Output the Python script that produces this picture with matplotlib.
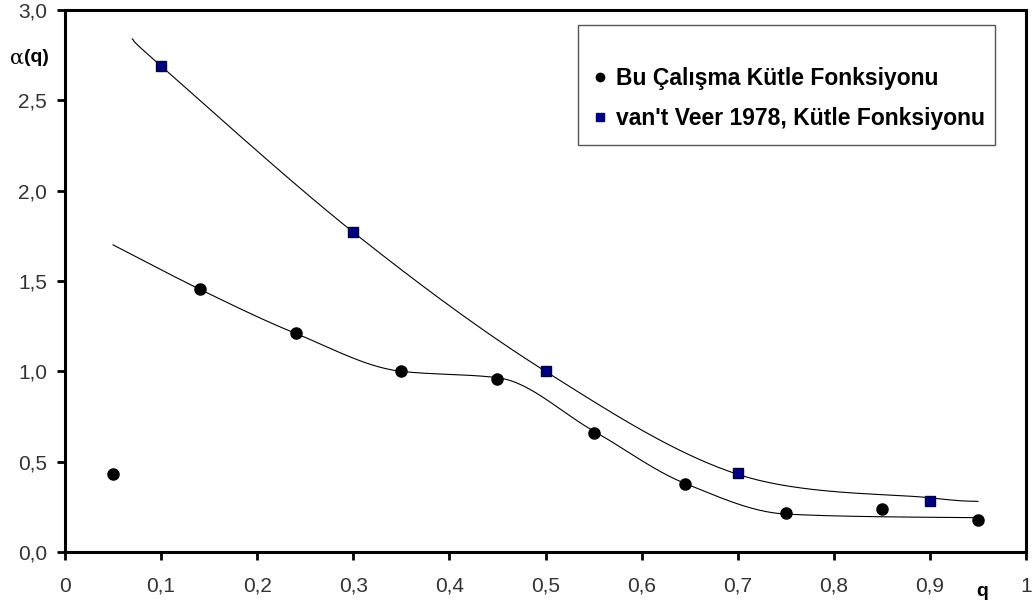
import numpy as np
import matplotlib
matplotlib.use("Agg")
import matplotlib.pyplot as plt
from matplotlib.lines import Line2D
from matplotlib.patches import Rectangle

plt.rcParams['font.family'] = ['Liberation Sans', 'DejaVu Sans']

# ---------------- data ----------------
q_bu = [0.05, 0.14, 0.24, 0.35, 0.45, 0.55, 0.645, 0.75, 0.85, 0.95]
a_bu = [0.43, 1.455, 1.21, 1.00, 0.96, 0.66, 0.375, 0.215, 0.238, 0.177]

q_vv = [0.10, 0.30, 0.50, 0.70, 0.90]
a_vv = [2.69, 1.77, 1.00, 0.435, 0.28]

# smoothed trend lines (knots)
q_bu_fit = [0.05, 0.14, 0.24, 0.35, 0.45, 0.55, 0.645, 0.75, 0.85, 0.95]
a_bu_fit = [1.70, 1.455, 1.21, 1.00, 0.965, 0.67, 0.38, 0.21, 0.195, 0.19]

q_vv_fit = [0.07, 0.10, 0.30, 0.50, 0.70, 0.90, 0.95]
a_vv_fit = [2.84, 2.69, 1.77, 1.00, 0.43, 0.30, 0.28]

xticks = [0, 0.1, 0.2, 0.3, 0.4, 0.5, 0.6, 0.7, 0.8, 0.9, 1.0]
xtick_labels = ["0", "0,1", "0,2", "0,3", "0,4", "0,5", "0,6", "0,7", "0,8", "0,9", "1"]
yticks = [0, 0.5, 1.0, 1.5, 2.0, 2.5, 3.0]
ytick_labels = ["0,0", "0,5", "1,0", "1,5", "2,0", "2,5", "3,0"]

labels = ["Bu Çalışma Kütle Fonksiyonu", "van't Veer 1978, Kütle Fonksiyonu"]


def smooth_cr(xs, ys, n=40):
    # Catmull-Rom through the knots (spreadsheet "smoothed line")
    p = np.column_stack([xs, ys]).astype(float)
    p = np.vstack([p[0], p, p[-1]])
    out = []
    t = np.linspace(0, 1, n)[:, None]
    for i in range(1, len(p) - 2):
        p0, p1, p2, p3 = p[i - 1], p[i], p[i + 1], p[i + 2]
        seg = 0.5 * ((2 * p1) + (-p0 + p2) * t
                     + (2 * p0 - 5 * p1 + 4 * p2 - p3) * t ** 2
                     + (-p0 + 3 * p1 - 3 * p2 + p3) * t ** 3)
        out.append(seg)
    out = np.vstack(out)
    return out[:, 0], out[:, 1]


def smooth_mono(xs, ys, n=400):
    # monotone cubic (Fritsch-Carlson), keeps the flat part flat
    x = np.asarray(xs, float)
    y = np.asarray(ys, float)
    h = np.diff(x)
    d = np.diff(y) / h
    m = np.zeros_like(x)
    for k in range(1, len(x) - 1):
        if d[k - 1] * d[k] > 0:
            w1 = 2 * h[k] + h[k - 1]
            w2 = h[k] + 2 * h[k - 1]
            m[k] = (w1 + w2) / (w1 / d[k - 1] + w2 / d[k])
    m[0] = d[0]
    m[-1] = d[-1]
    xx = np.linspace(x[0], x[-1], n)
    i = np.clip(np.searchsorted(x, xx) - 1, 0, len(x) - 2)
    t = (xx - x[i]) / h[i]
    h00 = 2 * t ** 3 - 3 * t ** 2 + 1
    h10 = t ** 3 - 2 * t ** 2 + t
    h01 = -2 * t ** 3 + 3 * t ** 2
    h11 = t ** 3 - t ** 2
    yy = h00 * y[i] + h10 * h[i] * m[i] + h01 * y[i + 1] + h11 * h[i] * m[i + 1]
    return xx, yy


fig = plt.figure(figsize=(10.35, 6.04), dpi=100)
ax = fig.add_axes([65 / 1035, 1 - 552 / 604, 961 / 1035, 542 / 604])

sx, sy = smooth_cr(q_vv_fit, a_vv_fit)
ax.plot(sx, sy, color="black", lw=0.8)
sx, sy = smooth_mono(q_bu_fit, a_bu_fit)
ax.plot(sx, sy, color="black", lw=0.8)

ax.plot(q_bu, a_bu, "o", color="black", ms=8, zorder=3)
ax.plot(q_vv, a_vv, "s", color="#000080", mec="#000040", ms=7.5, zorder=3)

ax.set_xlim(0, 1)
ax.set_ylim(0, 3)
ax.set_xticks(xticks)
ax.set_xticklabels(xtick_labels)
ax.set_yticks(yticks)
ax.set_yticklabels(ytick_labels)

for s in ax.spines.values():
    s.set_linewidth(2.2)
ax.tick_params(axis="both", direction="out", length=6, width=2,
               labelsize=15, labelcolor="#333333")
ax.tick_params(axis="x", pad=12)
ax.tick_params(axis="y", pad=7)

# axis labels
fig.text(10 / 1035, 1 - 58 / 604, "α", fontsize=15, va="center", ha="left",
         family="DejaVu Serif")
fig.text(24 / 1035, 1 - 58 / 604, "(q)", fontsize=14, fontweight="bold",
         va="center", ha="left")
fig.text(982 / 1035, 1 - 591 / 604, "q", fontsize=14, fontweight="bold",
         va="center", ha="center")

# legend: frame drawn separately (text sits low in the box)
ax.add_patch(Rectangle((578 / 1035, 1 - 145 / 604), 417 / 1035, 120 / 604,
                       transform=fig.transFigure, clip_on=False,
                       facecolor="white", edgecolor="#555555", lw=1.0,
                       zorder=5))
handles = [
    Line2D([], [], ls="none", marker="o", color="black", ms=6),
    Line2D([], [], ls="none", marker="s", color="#000080", ms=5.5),
]
leg = ax.legend(handles, labels, loc="upper left",
                bbox_to_anchor=(593 / 1035, 1 - 67 / 604),
                bbox_transform=fig.transFigure,
                prop={"size": 16.5, "weight": "bold"},
                frameon=False, borderpad=0, borderaxespad=0,
                labelspacing=0.74, handlelength=0.6, handletextpad=0.4)
leg.set_zorder(6)

fig.savefig("out.png", dpi=100)
